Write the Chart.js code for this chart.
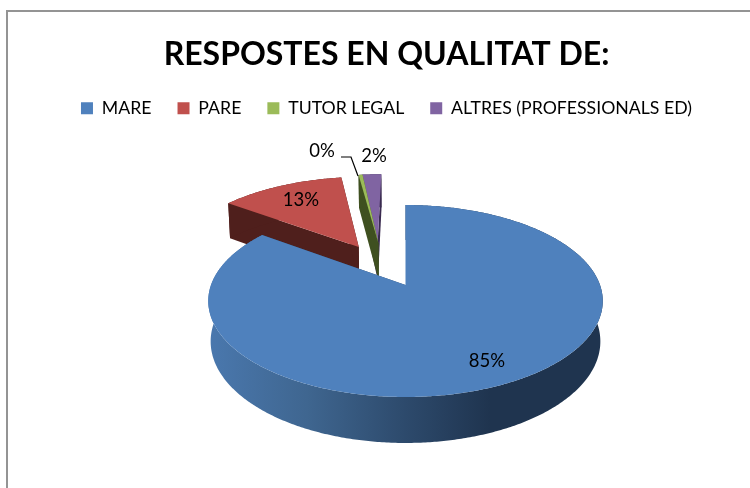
<!DOCTYPE html>
<html>
<head>
<meta charset="utf-8">
<style>
  html, body { margin: 0; padding: 0; background: #fff; width: 750px; height: 488px; overflow: hidden; }
  #frame { position: absolute; left: 6px; top: 10px; width: 760px; height: 500px; border: 2px solid #949494; }
  canvas { position: absolute; left: 0; top: 0; }
</style>
<script src="https://cdn.jsdelivr.net/npm/chart.js@4"></script>
</head>
<body>
<div id="frame"></div>
<canvas id="chart" width="750" height="488"></canvas>
<script>
const titleText = "RESPOSTES EN QUALITAT DE:";
const categories = ["MARE", "PARE", "TUTOR LEGAL", "ALTRES (PROFESSIONALS ED)"];
const percents = [85, 12.6, 0.4, 2];
const sliceColors = ["#4f81bd", "#c0504d", "#9bbb59", "#8064a2"];
const wallColors = ["#2d4a6c", "#4f1f1c", "#3f5020", "#3a2b50"];

// how far each slice is pulled out of the pie, in pie radii (x, y on the pie plane)
const explode = [[0, 0], [-0.258, -0.437], [-0.15, -0.48], [-0.155, -0.48]];
// where the percent labels sit
const labelPos = [[487, 361], [301, 200], [322, 151], [374, 156]];

// perspective of the tilted pie, fitted by eye to the picture
const CX = 405.5, CY = 285, BX = 194.5, AY = 93.33, DEPTH = 40.2, K = 1 / 6, M = 0.012;

function project(u, v, w) {
  const d = 1 - K * v + M * w;
  return [CX + BX * u / d, CY + (AY * v + DEPTH * w) / d];
}

function outline(a0, a1, off, w) {
  const pts = [];
  const steps = Math.max(2, Math.ceil((a1 - a0) / 0.01));
  for (let i = 0; i <= steps; i++) {
    const a = a0 + (a1 - a0) * i / steps;
    pts.push(project(Math.sin(a) + off[0], -Math.cos(a) + off[1], w));
  }
  return pts;
}

function fillPoly(ctx, pts, color) {
  ctx.beginPath();
  pts.forEach((p, i) => i ? ctx.lineTo(p[0], p[1]) : ctx.moveTo(p[0], p[1]));
  ctx.closePath();
  ctx.fillStyle = color;
  ctx.fill();
}

const pie3d = {
  id: "pie3d",
  beforeDatasetDraw(chart, args) {
    const ctx = chart.ctx;
    const arcs = chart.getDatasetMeta(args.index).data;
    const blueWall = ctx.createLinearGradient(208, 0, 490, 0);
    blueWall.addColorStop(0, "#4a78ae");
    blueWall.addColorStop(0.35, "#3f6690");
    blueWall.addColorStop(0.7, "#2d4a6c");
    blueWall.addColorStop(1, "#1f344f");

    // back slices first, the big one goes on top
    [3, 2, 1, 0].forEach(i => {
      const a0 = arcs[i].startAngle + Math.PI / 2;
      const a1 = arcs[i].endAngle + Math.PI / 2;
      const off = explode[i];
      const wall = i === 0 ? blueWall : wallColors[i];
      const top = outline(a0, a1, off, 0);
      const bottom = outline(a0, a1, off, 1);
      const apexTop = project(off[0], off[1], 0);
      const apexBottom = project(off[0], off[1], 1);

      fillPoly(ctx, [apexTop, top[0], bottom[0], apexBottom], wallColors[i]);
      fillPoly(ctx, [apexTop, top[top.length - 1], bottom[bottom.length - 1], apexBottom], wallColors[i]);
      fillPoly(ctx, top.concat(bottom.slice().reverse()), wall);
      fillPoly(ctx, [apexTop].concat(top), sliceColors[i]);
    });
    return false;
  },
  afterDatasetsDraw(chart) {
    const ctx = chart.ctx;
    ctx.save();
    ctx.font = "18.5px Lato";
    ctx.fillStyle = "#000";
    ctx.textAlign = "center";
    ctx.textBaseline = "middle";
    percents.forEach((p, i) => ctx.fillText(Math.round(p) + "%", labelPos[i][0], labelPos[i][1]));
    // leader line for the tiny slice
    ctx.strokeStyle = "#000";
    ctx.lineWidth = 1.2;
    ctx.beginPath();
    ctx.moveTo(341, 157);
    ctx.lineTo(351, 157);
    ctx.lineTo(358, 176);
    ctx.stroke();
    ctx.restore();
  }
};

new Chart(document.getElementById("chart"), {
  type: "pie",
  data: {
    labels: categories,
    datasets: [{ data: percents, backgroundColor: sliceColors, borderWidth: 0 }]
  },
  plugins: [pie3d],
  options: {
    responsive: false,
    animation: false,
    layout: { padding: { top: 35, left: 23 } },
    plugins: {
      tooltip: { enabled: false },
      title: {
        display: true,
        text: titleText,
        color: "#000",
        font: { family: "Lato", size: 32, weight: "bold" },
        padding: { top: 0, bottom: 0 }
      },
      legend: {
        position: "top",
        labels: {
          color: "#000",
          font: { family: "Lato", size: 17.7 },
          boxWidth: 12,
          boxHeight: 12,
          padding: 26
        }
      }
    }
  }
});
</script>
</body>
</html>
